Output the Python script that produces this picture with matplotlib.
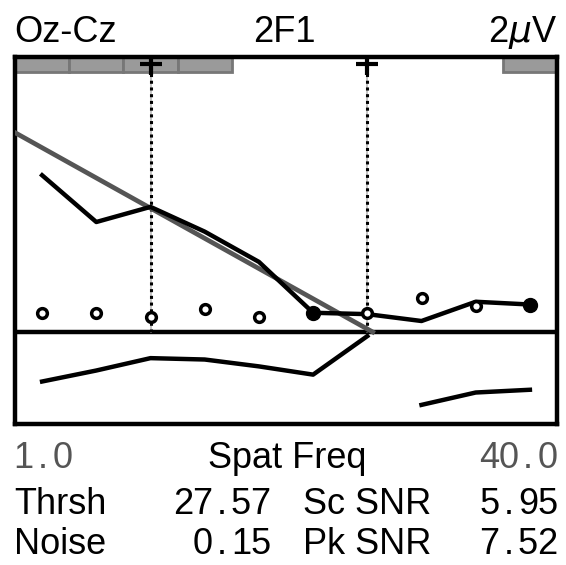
import numpy as np
import matplotlib.pyplot as plt
from matplotlib.patches import Rectangle

plt.rcParams['font.family'] = ['Liberation Sans', 'DejaVu Sans']

# spatial frequency bins (index 0..9 from 1.0 to 40.0)
bins = np.arange(10)

# 2F1 amplitude (uV) per bin
amp = [1.14, 0.80, 0.91, 0.73, 0.51, 0.14, 0.13, 0.08, 0.22, 0.20]
# noise estimate per bin
noise = [0.14, 0.14, 0.11, 0.17, 0.11, 0.14, 0.14, 0.25, 0.19, 0.20]
# lower trace, two pieces
low_a_x = [0, 1, 2, 3, 4, 5, 6]
low_a = [-0.36, -0.28, -0.19, -0.20, -0.25, -0.31, -0.03]
low_b_x = [7, 8, 9]
low_b = [-0.53, -0.44, -0.42]
# bins with filled markers
filled = [5, 9]
# threshold regression line
fit_x = [-0.5, 6.1]
fit_y = [1.45, 0.0]
# significant bins shown in the top strip
sig_bins = [0, 1, 2, 3, 9]
# bins with the vertical markers
mark_bins = [2, 6]

W, H = 566, 565
fig = plt.figure(figsize=(W / 100, H / 100), dpi=100)
ax = fig.add_axes([15 / W, 1 - 424 / H, (557 - 15) / W, (424 - 57) / H])
ax.set_xlim(-0.5, 9.5)
ax.set_ylim(-0.669, 2.0)
ax.set_xticks([])
ax.set_yticks([])
for s in ax.spines.values():
    s.set_linewidth(3.2)

for b in sig_bins:
    ax.add_patch(Rectangle((b - 0.5, 1.89), 1, 0.11, facecolor='#9a9a9a',
                           edgecolor='#777777', linewidth=2, zorder=1))

ax.axhline(0, color='black', lw=3.2, zorder=2)

for b in mark_bins:
    ax.plot([b, b], [0, 1.95], color='#bbbbbb', lw=1.2, zorder=2)
    ax.plot([b, b], [0, 1.95], color='black', lw=2.2, ls=(0, (1, 1.2)), zorder=3)
    ax.plot(b, 1.95, marker='+', color='black', ms=16, mew=3, zorder=5)

ax.plot(fit_x, fit_y, color='#555555', lw=3.4, zorder=4)
ax.plot(bins, amp, color='black', lw=3.2, zorder=5)
ax.plot(low_a_x, low_a, color='black', lw=3.2, zorder=5)
ax.plot(low_b_x, low_b, color='black', lw=3.2, zorder=5)

open_bins = [b for b in bins if b not in filled]
ax.plot(open_bins, [noise[b] for b in open_bins], ls='none', marker='o', ms=7,
        mfc='white', mec='black', mew=2.5, zorder=6)
ax.plot(filled, [amp[b] for b in filled], ls='none', marker='o', ms=10,
        color='black', zorder=6)


def px(x, y):
    return x / W, 1 - y / H


fs = 26
cell = 19.3


def num(s, x, y, right=True, color='black'):
    # fixed-width digits, one cell per character
    x0 = x - cell * len(s) if right else x
    for i, ch in enumerate(s):
        fig.text(*px(x0 + cell * (i + 0.5), y), ch, fontsize=fs,
                 ha='center', va='baseline', color=color)


fig.text(*px(14, 42), 'Oz-Cz', fontsize=fs, va='baseline', ha='left')
fig.text(*px(284, 42), '2F1', fontsize=fs, va='baseline', ha='center')
fig.text(*px(557, 42), '2$\\mu$V', fontsize=fs, va='baseline', ha='right')

num('1.0', 14, 468, right=False, color='#555555')
fig.text(*px(287, 468), 'Spat Freq', fontsize=fs, va='baseline', ha='center')
num('40.0', 557, 468, color='#555555')

rows = [('Thrsh', '27.57', 'Sc SNR', '5.95', 514),
        ('Noise', '0.15', 'Pk SNR', '7.52', 554)]
for a, b, c, d, y in rows:
    fig.text(*px(14, y), a, fontsize=fs, va='baseline', ha='left')
    num(b, 270, y)
    fig.text(*px(303, y), c, fontsize=fs, va='baseline', ha='left')
    num(d, 557, y)

fig.savefig('out.png', dpi=100)
